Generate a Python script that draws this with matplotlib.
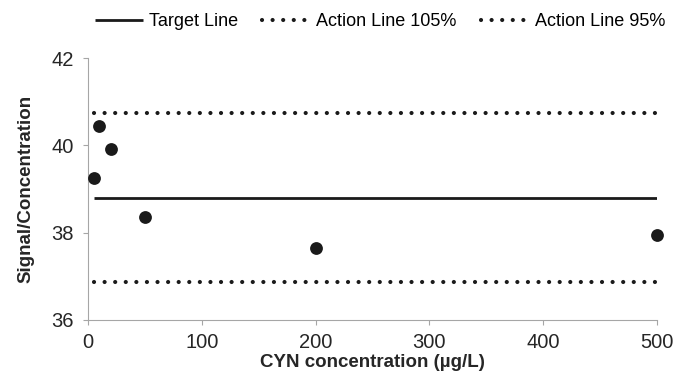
import matplotlib
matplotlib.use("Agg")
import matplotlib.pyplot as plt

plt.rcParams['font.family'] = ['Liberation Sans', 'DejaVu Sans']

conc = [5, 10, 20, 50, 200, 500]
signal = [39.25, 40.44, 39.92, 38.36, 37.65, 37.95]
line_x = [5, 500]
target = 38.80
action_hi = 40.74
action_lo = 36.86

fig = plt.figure(figsize=(6.77, 3.78), dpi=100)
ax = fig.add_axes([0.1300, 0.15344, 0.8405, 0.6931])

dot_style = (0, (0.01, 2.53))
ax.plot(line_x, [target, target], color='#1a1a1a', lw=2.0, solid_capstyle='butt', label='Target Line')
ax.plot(line_x, [action_hi, action_hi], color='#1a1a1a', lw=3, linestyle=dot_style,
        dash_capstyle='round', label='Action Line 105%')
ax.plot(line_x, [action_lo, action_lo], color='#1a1a1a', lw=3, linestyle=dot_style,
        dash_capstyle='round', label='Action Line 95%')
ax.scatter(conc, signal, s=85, color='#1a1a1a', zorder=3, clip_on=False, linewidths=0)

ax.set_xlim(0, 500)
ax.set_ylim(36, 42)
ax.set_xticks([0, 100, 200, 300, 400, 500])
ax.set_yticks([36, 38, 40, 42])
for s in ['top', 'right']:
    ax.spines[s].set_visible(False)
for s in ['left', 'bottom']:
    ax.spines[s].set_color('#a6a6a6')
ax.tick_params(colors='#a6a6a6', labelcolor='#262626', labelsize=14.5, length=3.6, direction='out')
ax.tick_params(axis='x', pad=5.5)
ax.tick_params(axis='y', pad=6.5)
ax.set_xlabel('CYN concentration (µg/L)', fontsize=13.5, fontweight='bold', color='#262626')
ax.set_ylabel('Signal/Concentration', fontsize=13.5, fontweight='bold', color='#262626')
ax.xaxis.set_label_coords(0.5, -0.1316)
ax.yaxis.set_label_coords(-0.0949, 0.5)

handles, labels = ax.get_legend_handles_labels()
fig.legend(handles[:3], labels[:3], loc='center', bbox_to_anchor=(0.5613, 0.942), ncol=3,
           frameon=False, fontsize=13, handlelength=2.66, handletextpad=0.33, columnspacing=1.33)

fig.savefig('out.png', dpi=100)
